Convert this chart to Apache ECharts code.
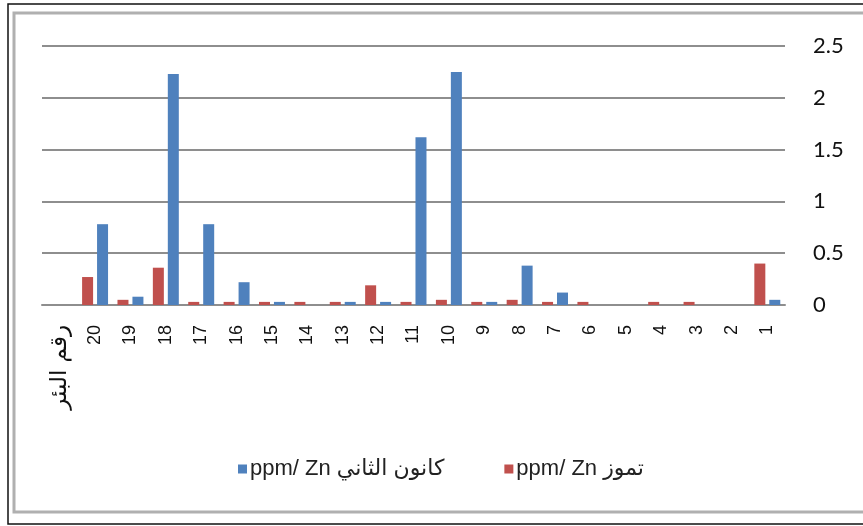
<!DOCTYPE html>
<html>
<head>
<meta charset="utf-8">
<script src="https://cdn.jsdelivr.net/npm/echarts@6/dist/echarts.min.js"></script>
<style>html,body{margin:0;padding:0;background:#fff}#c{width:863px;height:526px}</style>
</head>
<body>
<div id="c"></div>
<script>
var categories = ['رقم البئر','20','19','18','17','16','15','14','13','12','11','10','9','8','7','6','5','4','3','2','1'];
var januaryZn = [null,0.78,0.08,2.23,0.78,0.22,0.03,0,0.03,0.03,1.62,2.25,0.03,0.38,0.12,0,0,0,0,0,0.05];
var julyZn    = [null,0.27,0.05,0.36,0.03,0.03,0.03,0.03,0.03,0.19,0.03,0.05,0.03,0.05,0.03,0.03,0,0.03,0.03,0,0.40];
var yTicks = [0,0.5,1,1.5,2,2.5];
var nameJan = 'ppm/ Zn كانون الثاني';
var nameJul = 'ppm/ Zn تموز';

var chart = echarts.init(document.getElementById('c'), null, {renderer:'canvas'});
chart.setOption({
  animation:false,
  backgroundColor:'#fff',
  graphic:[
    {type:'rect', shape:{x:8,y:4,width:870,height:520}, style:{fill:'none',stroke:'#111',lineWidth:1.5}, silent:true},
    {type:'rect', shape:{x:14,y:13,width:860,height:499}, style:{fill:'none',stroke:'#b0b0b0',lineWidth:3}, silent:true}
  ],
  grid:{left:42,right:78,top:46,bottom:221},
  legend:{
    data:[nameJan,nameJul],
    left:233, top:453,
    itemWidth:9, itemHeight:9, itemGap:60,
    icon:'rect',
    textStyle:{fontFamily:'Liberation Sans, DejaVu Sans, sans-serif',fontSize:22,color:'#222',padding:[0,0,0,-2]}
  },
  xAxis:{
    type:'category',
    data:categories,
    axisLine:{lineStyle:{color:'#8e8e8e',width:2}},
    axisTick:{show:false},
    axisLabel:{interval:0,rotate:90,margin:20,color:'#111',fontSize:18,fontFamily:'Liberation Sans, DejaVu Sans, sans-serif',
      formatter:function(v,i){return i===0?'{ar|'+v+'}':v;},
      rich:{ar:{fontSize:23,color:'#111',fontFamily:'DejaVu Sans, sans-serif'}}}
  },
  yAxis:{
    type:'value',
    position:'right',
    min:0,max:2.5,interval:0.5,
    axisLine:{show:false},
    axisTick:{show:false},
    splitLine:{lineStyle:{color:'#8e8e8e',width:2}},
    axisLabel:{margin:28,color:'#111',fontSize:22,fontFamily:'Lato, sans-serif',
      formatter:function(v){return yTicks.indexOf(v)>=0?String(v):'';}}
  },
  series:[
    {name:nameJul,type:'bar',data:julyZn,barWidth:11,barGap:'36%',
      itemStyle:{color:'#C0504D'}},
    {name:nameJan,type:'bar',data:januaryZn,barWidth:11,barGap:'36%',
      itemStyle:{color:'#4F81BD'}}
  ]
});
</script>
</body>
</html>
